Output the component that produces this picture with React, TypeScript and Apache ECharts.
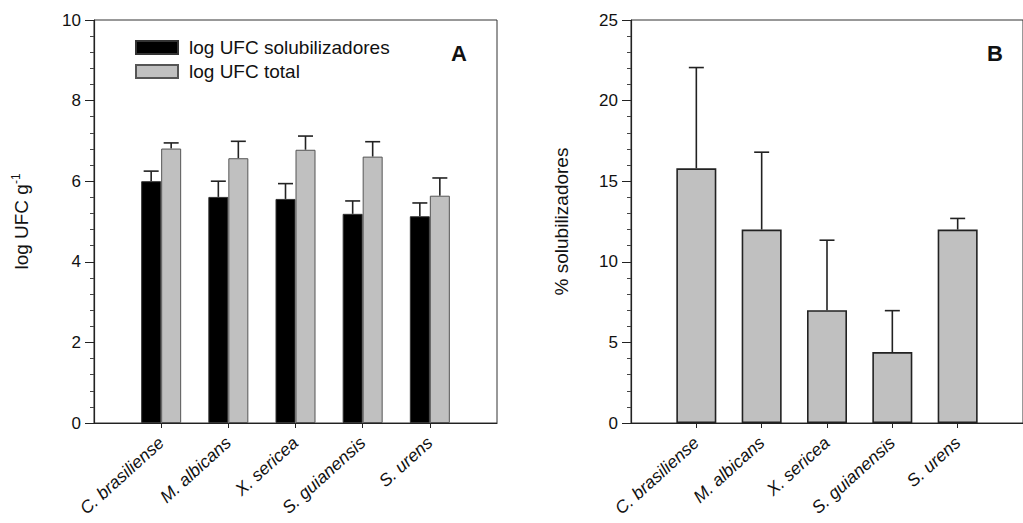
import React, { useEffect, useRef } from "react";
import * as echarts from "echarts";

const species = ["C. brasiliense", "M. albicans", "X. sericea", "S. guianensis", "S. urens"];
const solubValues = [6.0, 5.61, 5.56, 5.19, 5.13];
const solubErrors = [0.25, 0.39, 0.38, 0.32, 0.33];
const totalValues = [6.81, 6.57, 6.78, 6.61, 5.64];
const totalErrors = [0.14, 0.42, 0.34, 0.37, 0.44];
const percentValues = [15.8, 12.0, 7.0, 4.4, 12.0];
const percentErrors = [6.25, 4.8, 4.34, 2.57, 0.69];

const FONT = "Liberation Sans, Arial, sans-serif";
const cats = ["", ...species, ""];
const padBars = (v: number[]) => ["-", ...v, "-"];
const errData = (v: number[], e: number[]) => v.map((val, i) => [i + 1, val, e[i]]);

function errorSeries(name: string, xi: number, data: number[][], offset: number) {
  return {
    type: "custom",
    name,
    xAxisIndex: xi,
    yAxisIndex: xi,
    silent: true,
    z: 1,
    data,
    renderItem: (params: any, api: any) => {
      const x = api.value(0);
      const v = api.value(1);
      const e = api.value(2);
      const base = api.coord([x, v]);
      const top = api.coord([x, v + e]);
      const cx = base[0] + offset;
      const style = { stroke: "#222", lineWidth: 1.6 };
      return {
        type: "group",
        children: [
          { type: "line", shape: { x1: cx, y1: base[1], x2: cx, y2: top[1] }, style },
          { type: "line", shape: { x1: cx - 7.5, y1: top[1], x2: cx + 7.5, y2: top[1] }, style },
        ],
      };
    },
  };
}

function makeX(gridIndex: number) {
  return {
    type: "category",
    gridIndex,
    data: cats,
    boundaryGap: false,
    axisLine: { show: true, lineStyle: { color: "#222", width: 1.2 } },
    axisTick: {
      show: true,
      length: 5,
      interval: (i: number) => i > 0 && i < cats.length - 1,
      lineStyle: { color: "#222" },
    },
    axisLabel: {
      interval: (i: number) => i > 0 && i < cats.length - 1,
      rotate: 42,
      margin: 17,
      fontSize: 17.5,
      fontStyle: "italic",
      fontFamily: FONT,
      color: "#111",
    },
    splitLine: { show: false },
  };
}

function makeY(gridIndex: number, max: number, interval: number, name: any, nameGap: number) {
  return {
    type: "value",
    gridIndex,
    min: 0,
    max,
    interval,
    name,
    nameLocation: "middle",
    nameGap,
    nameRotate: 90,
    nameTextStyle: {
      fontSize: 19,
      fontFamily: FONT,
      color: "#111",
      rich: {
        sup: { fontSize: 12, fontFamily: FONT, color: "#111", verticalAlign: "top", padding: [0, 0, 10, 0] },
      },
    },
    axisLine: { show: true, lineStyle: { color: "#222", width: 1.2 } },
    axisTick: { show: true, length: 9, lineStyle: { color: "#222" } },
    minorTick: { show: true, splitNumber: 5, length: 4, lineStyle: { color: "#444" } },
    axisLabel: { fontSize: 17, fontFamily: FONT, color: "#111", margin: 13 },
    splitLine: { show: false },
  };
}

export default function App() {
  const ref = useRef<HTMLDivElement>(null);
  useEffect(() => {
    if (!ref.current) return;
    const chart = echarts.init(ref.current, null, { renderer: "svg" });
    chart.setOption({
      animation: false,
      backgroundColor: "#ffffff",
      textStyle: { fontFamily: FONT },
      grid: [
        { left: 94, top: 20, width: 403, height: 403, show: true, borderColor: "#333", borderWidth: 1, backgroundColor: "transparent" },
        { left: 631, top: 20, right: -11, height: 403, show: true, borderColor: "#333", borderWidth: 1, backgroundColor: "transparent" },
      ],
      legend: {
        data: ["log UFC solubilizadores", "log UFC total"],
        orient: "vertical",
        left: 135,
        top: 38,
        padding: 0,
        itemWidth: 42,
        itemHeight: 13,
        itemGap: 5,
        icon: "rect",
        selectedMode: false,
        textStyle: { fontSize: 19, fontFamily: FONT, color: "#111", padding: [0, 0, 0, 6] },
      },
      xAxis: [makeX(0), makeX(1)],
      yAxis: [
        makeY(0, 10, 2, "log UFC g{sup|-1}", 62),
        makeY(1, 25, 5, "% solubilizadores", 60),
      ],
      graphic: [
        { type: "text", left: 451, top: 42, style: { text: "A", fontSize: 22, fontWeight: "bold", fontFamily: FONT, fill: "#111" } },
        { type: "text", left: 987, top: 42, style: { text: "B", fontSize: 22, fontWeight: "bold", fontFamily: FONT, fill: "#111" } },
      ],
      series: [
        {
          type: "bar",
          name: "log UFC solubilizadores",
          xAxisIndex: 0,
          yAxisIndex: 0,
          data: padBars(solubValues),
          barWidth: 20,
          barGap: "0%",
          z: 2,
          itemStyle: { color: "#000000", borderColor: "#333", borderWidth: 1 },
        },
        {
          type: "bar",
          name: "log UFC total",
          xAxisIndex: 0,
          yAxisIndex: 0,
          data: padBars(totalValues),
          barWidth: 20,
          barGap: "0%",
          z: 2,
          itemStyle: { color: "#c0c0c0", borderColor: "#555", borderWidth: 1 },
        },
        {
          type: "bar",
          name: "% solubilizadores",
          xAxisIndex: 1,
          yAxisIndex: 1,
          data: padBars(percentValues),
          barWidth: 40,
          z: 2,
          itemStyle: { color: "#c0c0c0", borderColor: "#222", borderWidth: 1.6 },
        },
        errorSeries("err solub", 0, errData(solubValues, solubErrors), -10),
        errorSeries("err total", 0, errData(totalValues, totalErrors), 10),
        errorSeries("err percent", 1, errData(percentValues, percentErrors), 0),
      ],
    });
    return () => chart.dispose();
  }, []);
  return <div ref={ref} style={{ width: 1023, height: 523, position: "absolute", left: 0, top: 0 }} />;
}
